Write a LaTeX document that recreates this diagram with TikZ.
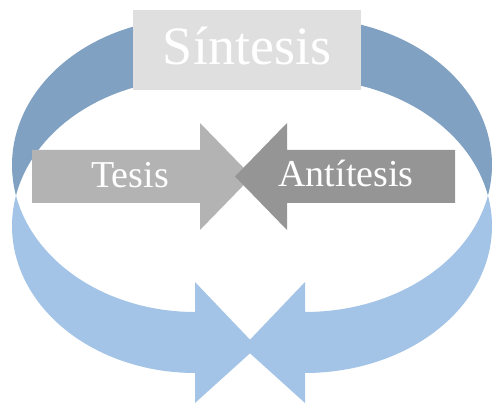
\documentclass[tikz,border=0pt]{standalone}
\usepackage{fontspec}
\setmainfont{Liberation Serif}
\definecolor{ringback}{HTML}{80A1C1}
\definecolor{ringfront}{HTML}{A3C4E7}
\definecolor{boxgray}{HTML}{DFDFDF}
\definecolor{thesisgray}{HTML}{B3B3B3}
\definecolor{antigray}{HTML}{959595}
\tikzset{
  backband/.style={fill=ringback},
  frontband/.style={fill=ringfront},
  label/.style={text=white, inner sep=0pt, anchor=base},
}
\begin{document}
\begin{tikzpicture}[x=1pt,y=1pt]
\useasboundingbox (0,0) rectangle (501,404);

% left curved arrow: two equal ellipses, the second one shifted down by the band width
% centre x = 195, radii 183 x 147, upper ellipse centre y = 239, lower ellipse centre y = 178
\fill[backband]
  plot[domain=192:90, samples=80, variable=\t] ({195+183*cos(\t)},{239+147*sin(\t)})
  -- plot[domain=90:168, samples=80, variable=\t] ({195+183*cos(\t)},{178+147*sin(\t)})
  -- cycle;
\fill[frontband]
  plot[domain=192:270, samples=80, variable=\t] ({195+183*cos(\t)},{239+147*sin(\t)})
  -- (195,122) -- (257,57) -- (195,1) -- (195,31)
  -- plot[domain=270:168, samples=80, variable=\t] ({195+183*cos(\t)},{178+147*sin(\t)})
  -- cycle;

% right curved arrow, mirrored: centre x = 305, radii 187 x 147
\fill[backband]
  plot[domain=-12:90, samples=80, variable=\t] ({305+187*cos(\t)},{239+147*sin(\t)})
  -- plot[domain=90:12, samples=80, variable=\t] ({305+187*cos(\t)},{178+147*sin(\t)})
  -- cycle;
\fill[frontband]
  plot[domain=-12:-90, samples=80, variable=\t] ({305+187*cos(\t)},{239+147*sin(\t)})
  -- (305,122) -- (243,57) -- (305,1) -- (305,31)
  -- plot[domain=-90:12, samples=80, variable=\t] ({305+187*cos(\t)},{178+147*sin(\t)})
  -- cycle;

% synthesis box
\fill[boxgray] (133,314) rectangle (361,394);
\node[label, font=\fontsize{54}{54}\selectfont] (sintesis) at (247,339) {Síntesis};

% thesis arrow pointing right
\fill[thesisgray] (32,201) -- (32,254) -- (200,254) -- (200,281) -- (252,227.5)
  -- (200,174) -- (200,201) -- cycle;
\node[label, font=\fontsize{38}{38}\selectfont] (tesis) at (130,216) {Tesis};

% antithesis arrow pointing left
\fill[antigray] (455,201) -- (455,254) -- (287,254) -- (287,281) -- (235,227.5)
  -- (287,174) -- (287,201) -- cycle;
\node[label, font=\fontsize{38}{38}\selectfont] (antitesis) at (346,217) {Antítesis};
\end{tikzpicture}
\end{document}
